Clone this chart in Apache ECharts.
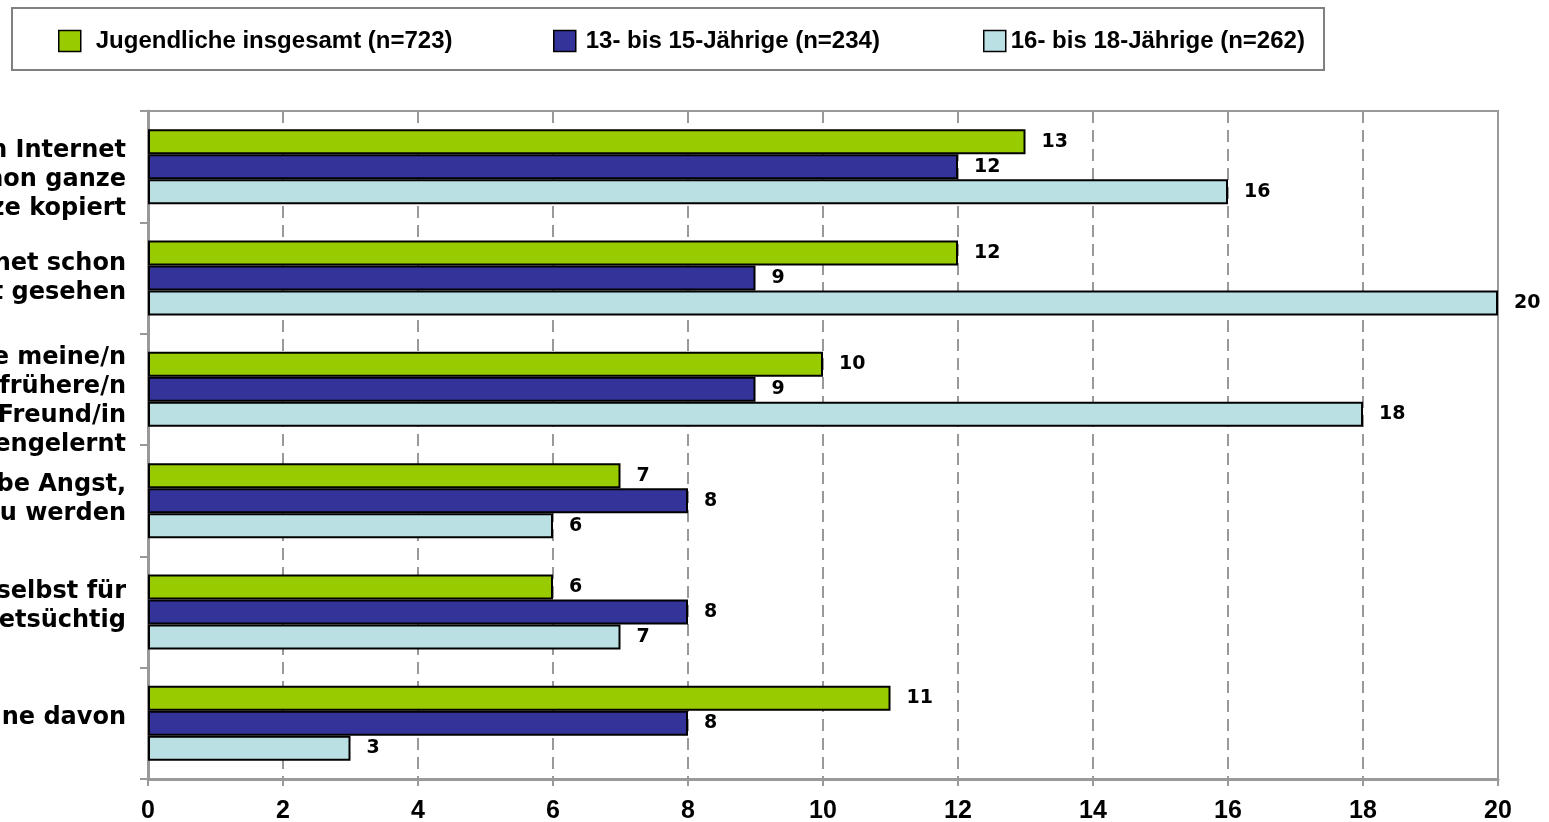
<!DOCTYPE html>
<html>
<head>
<meta charset="utf-8">
<script src="https://cdn.jsdelivr.net/npm/echarts@6/dist/echarts.min.js"></script>
<style>
html,body{margin:0;padding:0;background:#fff;}
#chart{width:1549px;height:822px;}
</style>
</head>
<body>
<div id="chart"></div>
<script>
const categories = [
  'Ich habe aus dem Internet\nschon ganze\nAufsätze kopiert',
  'Ich habe im Internet schon\nGewalt gesehen',
  'Ich habe meine/n\njetzige/n oder frühere/n\nFreund/in\nim Internet kennengelernt',
  'Ich habe Angst,\ninternetsüchtig zu werden',
  'Ich halte mich selbst für\ninternetsüchtig',
  'Keine davon'
];
const seriesNames = ['Jugendliche insgesamt (n=723)', '13- bis 15-Jährige (n=234)', '16- bis 18-Jährige (n=262)'];
const valuesAll = [13, 12, 10, 7, 6, 11];
const values1315 = [12, 9, 9, 8, 8, 8];
const values1618 = [16, 20, 18, 6, 7, 3];
const colors = ['#99CC00', '#333399', '#BBE0E3'];
const xTicks = [0, 2, 4, 6, 8, 10, 12, 14, 16, 18, 20];

// vertical nudge (px) of each category label, to mimic the original layout
const labelShift = [13, 0, 12, -1, -6, -6];

const chart = echarts.init(document.getElementById('chart'));
const seriesData = [valuesAll, values1315, values1618];

const legendLefts = [58, 553, 983];
const legendPads = [10, 5, 0];

const rich = { t: {
  fontFamily: '"DejaVu Sans", Verdana, sans-serif',
  fontWeight: 'bold', fontSize: 24, lineHeight: 29, color: '#000', align: 'right'
} };
labelShift.forEach((s, i) => {
  if (s !== 0) rich['s' + i] = { fontSize: 1, lineHeight: 2 * Math.abs(s), align: 'right' };
});

const option = {
  animation: false,
  graphic: [{
    type: 'rect',
    shape: { x: 12, y: 8, width: 1312, height: 62 },
    style: { fill: '#fff', stroke: '#808080', lineWidth: 2 },
    z: -1
  }],
  legend: seriesNames.map((n, i) => ({
    data: [n],
    left: legendLefts[i],
    top: 29,
    padding: 0,
    icon: 'rect',
    itemWidth: 22,
    itemHeight: 21,
    selectedMode: false,
    itemStyle: { borderColor: '#000', borderWidth: 1.5 },
    textStyle: {
      fontFamily: '"Liberation Sans", Arial, sans-serif',
      fontWeight: 'bold',
      fontSize: 24,
      color: '#000',
      padding: [0, 0, 0, legendPads[i]]
    }
  })),
  grid: {
    left: 148, right: 51, top: 111, bottom: 43,
    outerBoundsMode: 'none',
    containLabel: false,
    show: true, borderColor: '#999', borderWidth: 2
  },
  xAxis: {
    type: 'value',
    min: 0, max: 20, interval: 2,
    axisLine: { show: true, lineStyle: { color: '#999', width: 3 } },
    axisTick: { show: true, length: 7, lineStyle: { color: '#999', width: 2 } },
    splitLine: { show: true, lineStyle: { color: '#999', width: 2, type: [12, 7] } },
    axisLabel: {
      margin: 20,
      fontFamily: '"Liberation Sans", Arial, sans-serif',
      fontWeight: 'bold', fontSize: 25, color: '#000',
      formatter: v => xTicks.includes(v) ? String(v) : ''
    }
  },
  yAxis: {
    type: 'category',
    data: categories,
    inverse: true,
    axisLine: { show: true, lineStyle: { color: '#999', width: 3 } },
    axisTick: { show: true, length: 8, lineStyle: { color: '#999', width: 2 } },
    splitLine: { show: false },
    axisLabel: {
      margin: 22,
      fontFamily: '"DejaVu Sans", Verdana, sans-serif',
      fontWeight: 'bold', fontSize: 24, lineHeight: 29, color: '#000',
      align: 'right',
      rich: rich,
      formatter: (v, idx) => {
        const s = labelShift[idx];
        const body = v.split('\n').map(l => '{t|' + l + '}').join('\n');
        if (s > 0) return '{s' + idx + '| }\n' + body;
        if (s < 0) return body + '\n{s' + idx + '| }';
        return body;
      }
    }
  },
  series: seriesData.map((d, i) => ({
    name: seriesNames[i],
    type: 'bar',
    data: d,
    barWidth: 25,
    barGap: '0%',
    itemStyle: { color: colors[i], borderColor: '#000', borderWidth: 2 },
    label: {
      show: true, position: 'right', distance: 16,
      fontFamily: '"DejaVu Sans", Verdana, sans-serif',
      fontWeight: 'bold', fontSize: 19, color: '#000'
    }
  }))
};
chart.setOption(option);
</script>
</body>
</html>
